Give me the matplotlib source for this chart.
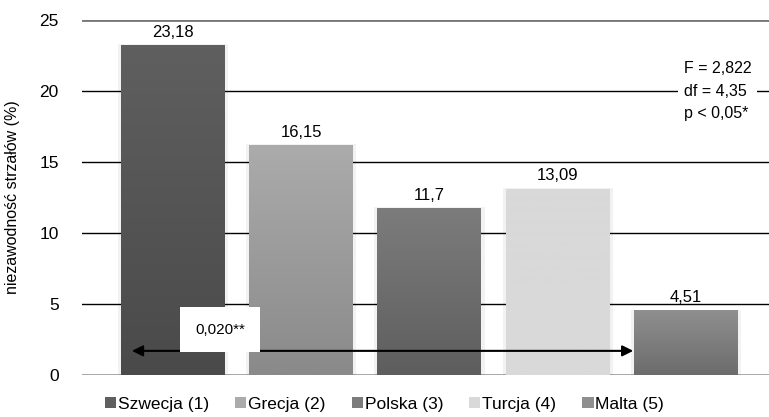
import numpy as np
import matplotlib.pyplot as plt
from matplotlib.patches import Patch

plt.rcParams['font.family'] = ['Liberation Sans', 'DejaVu Sans']

countries = ["Szwecja (1)", "Grecja (2)", "Polska (3)", "Turcja (4)", "Malta (5)"]
values = [23.18, 16.15, 11.7, 13.09, 4.51]
labels = ["23,18", "16,15", "11,7", "13,09", "4,51"]
# gradient colours: top, bottom
top_cols = ["#5f5f5f", "#ababab", "#7c7c7c", "#d9d9d9", "#8f8f8f"]
bot_cols = ["#4a4a4a", "#8a8a8a", "#5e5e5e", "#d9d9d9", "#6c6c6c"]
stats_text = "F = 2,822\ndf = 4,35\np < 0,05*"
sig_text = "0,020**"

fig = plt.figure(figsize=(7.69, 4.17), dpi=100)
ax = fig.add_axes([0.107, 0.1007, 0.893, 0.8513])

x = np.arange(len(values))
w = 0.81
ax.set_xlim(-0.705, 4.646)
ax.set_ylim(0, 25)

for yy in [5, 10, 15, 20]:
    ax.axhline(yy, color="black", lw=1, zorder=0)
ax.axhline(25, color="#777777", lw=2, zorder=0)
ax.axhline(0, color="#999999", lw=1.2, zorder=1)

def hex2rgb(h):
    return np.array([int(h[i:i + 2], 16) / 255 for i in (1, 3, 5)])

for i, v in enumerate(values):
    c1 = hex2rgb(top_cols[i])
    c2 = hex2rgb(bot_cols[i])
    t = np.linspace(0, 1, 64)[:, None]
    grad = (c1 * (1 - t) + c2 * t)[:, None, :]
    # soft glow around bar
    ax.bar(x[i], v + 0.1, w + 0.05, color="#000000", alpha=0.05, zorder=2)
    ax.imshow(grad, extent=[x[i] - w / 2, x[i] + w / 2, 0, v], aspect="auto",
              origin="upper", zorder=3, interpolation="bilinear")
    ax.text(x[i], v + 0.4, labels[i], ha="center", va="bottom", fontsize=12, zorder=5)

ax.set_xticks([])
ax.set_yticks([0, 5, 10, 15, 20, 25])
ax.tick_params(axis="y", length=0, labelsize=12.5, pad=17)
for s in ax.spines.values():
    s.set_visible(False)
ax.set_ylabel("niezawodność strzałów (%)", fontsize=11.5, labelpad=14)

ax.text(3.98, 20.0, stats_text, ha="left", va="center", fontsize=11.5, linespacing=1.6,
        bbox=dict(facecolor="white", edgecolor="none", pad=4), zorder=6)

ax.annotate("", xy=(-0.34, 1.7), xytext=(3.61, 1.7),
            arrowprops=dict(arrowstyle="<|-|>", color="black", lw=1.5, mutation_scale=16),
            zorder=6)
ax.text(0.37, 3.2, sig_text, ha="center", va="center", fontsize=11, zorder=6,
        bbox=dict(facecolor="white", edgecolor="none", boxstyle="square,pad=1.0"))

handles = [Patch(facecolor=top_cols[i], edgecolor="none") for i in range(len(countries))]
fig.legend(handles, countries, loc="lower center", bbox_to_anchor=(0.5, -0.025), ncol=5,
           frameon=False, fontsize=12.5, handlelength=0.65, handleheight=0.65,
           handletextpad=0.1, columnspacing=1.5)

fig.savefig("out.png", dpi=100)
